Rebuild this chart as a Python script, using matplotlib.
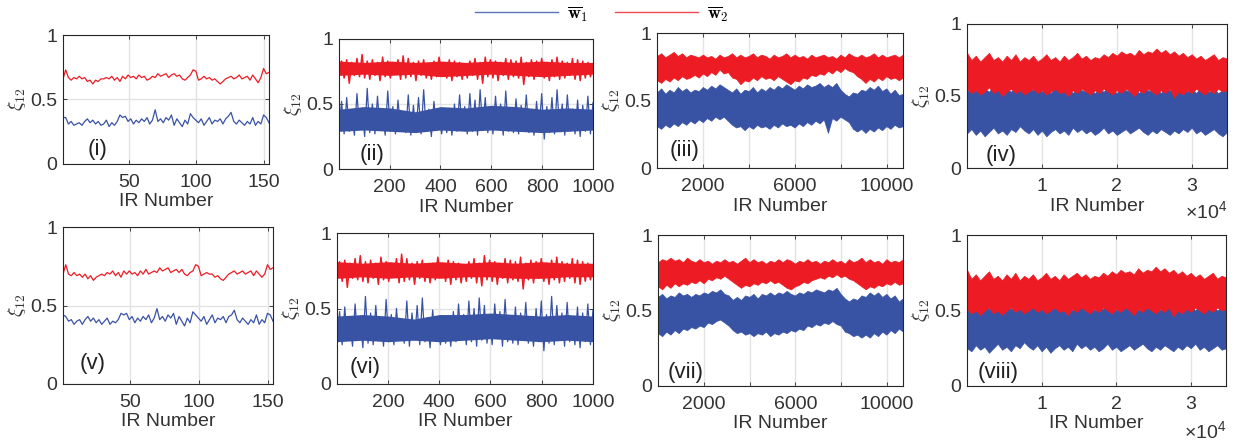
import numpy as np
import matplotlib
matplotlib.use("Agg")
import matplotlib.pyplot as plt

plt.rcParams['font.family'] = ['Liberation Sans', 'DejaVu Sans']
plt.rcParams['mathtext.fontset'] = 'cm'

BLUE = '#3953a4'
RED = '#ed1c24'
TXT = '#333333'

# ---- panels (i) and (v): 154 IRs ----
red_i = [0.66,0.73,0.67,0.65,0.67,0.66,0.68,0.66,0.67,0.64,0.65,0.62,0.65,0.64,0.66,0.66,0.67,0.66,0.68,0.65,
         0.67,0.64,0.68,0.66,0.69,0.67,0.68,0.66,0.69,0.67,0.68,0.65,0.66,0.68,0.67,0.70,0.68,0.69,0.70,0.67,
         0.69,0.70,0.68,0.69,0.66,0.65,0.67,0.69,0.73,0.72,0.65,0.66,0.68,0.66,0.67,0.65,0.66,0.64,0.62,0.64,
         0.66,0.67,0.68,0.66,0.67,0.69,0.66,0.67,0.68,0.65,0.69,0.66,0.63,0.67,0.74,0.70,0.71]
blue_i = [0.36,0.36,0.31,0.33,0.30,0.31,0.32,0.30,0.33,0.35,0.32,0.34,0.31,0.33,0.30,0.31,0.34,0.29,0.32,0.30,
          0.33,0.38,0.36,0.37,0.33,0.35,0.31,0.34,0.32,0.35,0.33,0.36,0.31,0.34,0.42,0.33,0.35,0.32,0.36,0.34,
          0.38,0.30,0.35,0.32,0.29,0.34,0.31,0.39,0.36,0.34,0.32,0.35,0.30,0.33,0.36,0.31,0.34,0.33,0.35,0.31,
          0.35,0.37,0.40,0.33,0.31,0.34,0.32,0.30,0.33,0.31,0.36,0.30,0.33,0.31,0.38,0.36,0.32]
red_v = [0.70,0.76,0.70,0.69,0.71,0.69,0.70,0.68,0.70,0.67,0.69,0.66,0.68,0.69,0.70,0.69,0.71,0.70,0.72,0.69,
         0.71,0.68,0.72,0.70,0.72,0.70,0.71,0.69,0.72,0.70,0.73,0.70,0.71,0.72,0.71,0.74,0.72,0.73,0.74,0.71,
         0.72,0.73,0.71,0.73,0.70,0.69,0.71,0.72,0.76,0.75,0.69,0.70,0.71,0.70,0.70,0.68,0.69,0.67,0.66,0.68,
         0.70,0.71,0.72,0.70,0.71,0.72,0.70,0.71,0.72,0.69,0.72,0.70,0.68,0.70,0.76,0.73,0.74]
blue_v = [0.44,0.43,0.40,0.41,0.38,0.40,0.41,0.38,0.41,0.43,0.40,0.42,0.39,0.41,0.38,0.40,0.42,0.38,0.40,0.39,
          0.41,0.45,0.44,0.45,0.41,0.43,0.39,0.42,0.40,0.43,0.41,0.44,0.39,0.42,0.48,0.41,0.43,0.40,0.44,0.42,
          0.45,0.38,0.43,0.40,0.37,0.42,0.39,0.46,0.44,0.42,0.40,0.43,0.38,0.41,0.44,0.39,0.42,0.41,0.43,0.39,
          0.43,0.44,0.47,0.41,0.39,0.42,0.40,0.38,0.41,0.39,0.44,0.38,0.41,0.39,0.45,0.44,0.40]

# ---- panels (ii) and (vi): 1000 IRs (spikes + dense core) ----
blue_ii = [0.30,0.52,0.27,0.55,0.29,0.44,0.26,0.58,0.31,0.47,0.25,0.62,0.28,0.50,0.27,0.56,0.30,0.45,0.26,0.60,
           0.29,0.48,0.27,0.53,0.31,0.43,0.28,0.57,0.26,0.49,0.30,0.55,0.27,0.61,0.29,0.46,0.25,0.52,0.30,0.42,
           0.27,0.40,0.28,0.45,0.26,0.50,0.29,0.57,0.30,0.48,0.27,0.58,0.29,0.53,0.26,0.61,0.30,0.55,0.28,0.47,
           0.27,0.56,0.31,0.50,0.26,0.60,0.29,0.45,0.28,0.54,0.27,0.49,0.30,0.57,0.28,0.44,0.26,0.52,0.29,0.58,
           0.23,0.48,0.28,0.55,0.27,0.61,0.30,0.50,0.26,0.57,0.29,0.46,0.27,0.53,0.25,0.49,0.29,0.56,0.27,0.51]
red_ii = [0.76,0.83,0.70,0.84,0.66,0.82,0.72,0.85,0.71,0.88,0.70,0.83,0.69,0.84,0.72,0.82,0.68,0.86,0.71,0.83,
          0.70,0.82,0.73,0.84,0.69,0.87,0.70,0.85,0.71,0.82,0.68,0.83,0.72,0.84,0.70,0.81,0.69,0.83,0.71,0.86,
          0.73,0.82,0.70,0.84,0.68,0.83,0.71,0.82,0.69,0.80,0.70,0.83,0.72,0.85,0.69,0.82,0.66,0.86,0.71,0.84,
          0.70,0.83,0.68,0.82,0.72,0.85,0.69,0.84,0.71,0.83,0.70,0.86,0.65,0.82,0.71,0.84,0.69,0.83,0.72,0.85,
          0.70,0.82,0.68,0.84,0.71,0.86,0.69,0.83,0.70,0.82,0.72,0.85,0.69,0.84,0.68,0.83,0.70,0.82,0.71,0.80]
blue_vi = [0.28,0.48,0.26,0.51,0.29,0.42,0.25,0.53,0.30,0.45,0.24,0.58,0.27,0.47,0.26,0.52,0.29,0.43,0.25,0.56,
           0.28,0.46,0.26,0.50,0.30,0.41,0.27,0.55,0.25,0.47,0.29,0.52,0.26,0.57,0.28,0.44,0.24,0.49,0.29,0.40,
           0.26,0.39,0.27,0.44,0.25,0.48,0.28,0.53,0.29,0.46,0.26,0.55,0.28,0.50,0.25,0.57,0.29,0.52,0.27,0.45,
           0.26,0.53,0.30,0.48,0.25,0.56,0.28,0.43,0.27,0.51,0.26,0.47,0.29,0.54,0.27,0.42,0.25,0.50,0.28,0.55,
           0.22,0.46,0.27,0.58,0.26,0.52,0.29,0.47,0.25,0.54,0.28,0.44,0.26,0.51,0.24,0.47,0.28,0.53,0.26,0.49]
red_vi = [0.75,0.81,0.68,0.82,0.64,0.80,0.70,0.83,0.69,0.85,0.68,0.81,0.67,0.82,0.70,0.80,0.66,0.84,0.69,0.81,
          0.68,0.80,0.71,0.83,0.67,0.86,0.68,0.83,0.69,0.80,0.66,0.81,0.70,0.82,0.68,0.79,0.67,0.80,0.69,0.84,
          0.71,0.80,0.68,0.82,0.66,0.81,0.69,0.80,0.67,0.78,0.68,0.81,0.70,0.83,0.67,0.80,0.65,0.85,0.69,0.82,
          0.68,0.81,0.66,0.80,0.70,0.83,0.67,0.82,0.69,0.81,0.68,0.84,0.63,0.80,0.69,0.82,0.67,0.81,0.70,0.83,
          0.68,0.80,0.66,0.82,0.69,0.84,0.67,0.81,0.68,0.80,0.70,0.83,0.67,0.82,0.66,0.81,0.68,0.80,0.69,0.78]
blue_core_ii = ([0.29,0.30,0.29,0.28,0.30,0.29,0.30,0.29,0.28,0.29,0.30],
                [0.46,0.48,0.47,0.44,0.48,0.47,0.49,0.48,0.46,0.47,0.46])
red_core_ii = ([0.72,0.73,0.72,0.73,0.71,0.72,0.73,0.72,0.71,0.72,0.73],
               [0.83,0.82,0.83,0.82,0.83,0.82,0.83,0.82,0.83,0.82,0.82])
blue_core_vi = ([0.28,0.29,0.28,0.29,0.28,0.29,0.30,0.29,0.28,0.29,0.28],
                [0.45,0.46,0.45,0.43,0.46,0.46,0.47,0.46,0.45,0.46,0.45])
red_core_vi = ([0.70,0.71,0.70,0.71,0.70,0.71,0.71,0.70,0.70,0.71,0.71],
               [0.81,0.80,0.81,0.80,0.81,0.80,0.81,0.80,0.81,0.80,0.80])

# ---- dense panels: lower / upper envelope of each band ----
red_hi_iii = [0.83,0.85,0.82,0.84,0.86,0.83,0.85,0.82,0.84,0.83, 0.82,0.84,0.82,0.83,0.81,0.84,0.82,0.83,0.85,0.82,
              0.84,0.82,0.83,0.85,0.82,0.84,0.83,0.81,0.84,0.82, 0.83,0.85,0.82,0.84,0.82,0.83,0.81,0.84,0.82,0.83,
              0.84,0.82,0.83,0.81,0.84,0.82,0.85,0.83,0.82,0.84, 0.82,0.83,0.85,0.82,0.84,0.82,0.83,0.84,0.82,0.84]
red_lo_iii = [0.65,0.63,0.66,0.64,0.67,0.65,0.68,0.66,0.67,0.69, 0.67,0.70,0.68,0.71,0.69,0.73,0.70,0.71,0.67,0.66,
              0.62,0.65,0.64,0.67,0.65,0.68,0.66,0.67,0.65,0.68, 0.66,0.64,0.62,0.65,0.64,0.67,0.66,0.69,0.68,0.70,
              0.69,0.72,0.70,0.73,0.71,0.74,0.72,0.71,0.68,0.66, 0.63,0.66,0.64,0.67,0.65,0.68,0.66,0.67,0.65,0.67]
blue_hi_iii = [0.56,0.59,0.55,0.58,0.56,0.60,0.57,0.59,0.56,0.58, 0.57,0.60,0.58,0.61,0.59,0.62,0.60,0.58,0.56,0.59,
               0.55,0.58,0.57,0.60,0.56,0.59,0.57,0.60,0.58,0.61, 0.59,0.62,0.60,0.58,0.61,0.59,0.62,0.60,0.61,0.63,
               0.60,0.62,0.60,0.63,0.58,0.55,0.53,0.56,0.55,0.58, 0.57,0.60,0.58,0.61,0.57,0.59,0.55,0.58,0.54,0.55]
blue_lo_iii = [0.31,0.29,0.32,0.30,0.33,0.31,0.34,0.32,0.35,0.33, 0.36,0.34,0.37,0.35,0.38,0.36,0.38,0.35,0.32,0.30,
               0.31,0.28,0.31,0.29,0.32,0.30,0.31,0.29,0.32,0.30, 0.33,0.31,0.32,0.30,0.33,0.31,0.34,0.32,0.35,0.33,
               0.36,0.26,0.37,0.35,0.38,0.36,0.34,0.29,0.27,0.29, 0.26,0.29,0.27,0.30,0.28,0.31,0.29,0.32,0.30,0.31]

red_hi_iv = [0.80,0.75,0.78,0.74,0.77,0.80,0.75,0.77,0.74,0.78, 0.75,0.79,0.74,0.77,0.75,0.78,0.74,0.76,0.79,0.75,
             0.77,0.74,0.78,0.75,0.77,0.80,0.76,0.78,0.75,0.77, 0.76,0.79,0.77,0.80,0.78,0.81,0.79,0.80,0.78,0.82,
             0.79,0.81,0.80,0.83,0.80,0.82,0.79,0.81,0.78,0.80, 0.77,0.79,0.76,0.78,0.75,0.77,0.79,0.75,0.77,0.76]
red_lo_iv = [0.55,0.52,0.54,0.51,0.53,0.56,0.52,0.54,0.50,0.53, 0.55,0.52,0.54,0.51,0.53,0.55,0.52,0.54,0.51,0.53,
             0.55,0.52,0.53,0.50,0.54,0.52,0.55,0.53,0.51,0.54, 0.52,0.55,0.53,0.51,0.54,0.52,0.55,0.53,0.50,0.54,
             0.52,0.55,0.53,0.51,0.54,0.52,0.55,0.49,0.53,0.51, 0.54,0.52,0.55,0.53,0.51,0.54,0.52,0.55,0.53,0.54]
blue_hi_iv = [0.53,0.56,0.54,0.52,0.55,0.53,0.57,0.54,0.52,0.55, 0.53,0.56,0.54,0.52,0.55,0.54,0.57,0.53,0.55,0.52,
              0.56,0.54,0.53,0.55,0.52,0.56,0.54,0.53,0.55,0.52, 0.55,0.53,0.56,0.54,0.52,0.57,0.54,0.53,0.55,0.52,
              0.56,0.54,0.53,0.55,0.52,0.56,0.54,0.53,0.55,0.57, 0.53,0.55,0.52,0.56,0.54,0.53,0.55,0.52,0.54,0.55]
blue_lo_iv = [0.24,0.27,0.23,0.26,0.22,0.25,0.28,0.24,0.26,0.23, 0.27,0.25,0.29,0.26,0.24,0.27,0.23,0.26,0.22,0.25,
              0.27,0.24,0.26,0.23,0.28,0.25,0.27,0.24,0.26,0.23, 0.25,0.28,0.24,0.26,0.23,0.25,0.27,0.24,0.26,0.28,
              0.25,0.23,0.26,0.24,0.27,0.25,0.23,0.26,0.24,0.27, 0.25,0.28,0.24,0.26,0.23,0.25,0.27,0.24,0.22,0.25]

red_hi_vii = [0.82,0.84,0.83,0.85,0.83,0.84,0.82,0.85,0.83,0.82, 0.84,0.82,0.83,0.81,0.83,0.82,0.84,0.82,0.83,0.81,
              0.83,0.85,0.82,0.84,0.82,0.83,0.81,0.83,0.82,0.84, 0.82,0.84,0.83,0.81,0.83,0.82,0.84,0.82,0.83,0.81,
              0.83,0.82,0.84,0.82,0.83,0.81,0.84,0.82,0.83,0.85, 0.82,0.84,0.82,0.83,0.81,0.84,0.82,0.83,0.82,0.84]
red_lo_vii = [0.66,0.64,0.67,0.65,0.68,0.66,0.68,0.67,0.69,0.68, 0.70,0.68,0.71,0.70,0.72,0.71,0.73,0.71,0.69,0.67,
              0.65,0.67,0.66,0.68,0.67,0.69,0.68,0.70,0.68,0.69, 0.67,0.65,0.64,0.66,0.67,0.69,0.68,0.70,0.71,0.72,
              0.71,0.73,0.72,0.74,0.72,0.73,0.71,0.70,0.68,0.66, 0.64,0.66,0.65,0.67,0.66,0.68,0.67,0.69,0.67,0.68]
blue_hi_vii = [0.59,0.61,0.58,0.60,0.59,0.62,0.60,0.61,0.59,0.61, 0.60,0.62,0.61,0.63,0.62,0.64,0.61,0.60,0.57,0.59,
               0.57,0.60,0.59,0.61,0.58,0.61,0.60,0.62,0.60,0.62, 0.61,0.63,0.61,0.60,0.62,0.61,0.63,0.62,0.64,0.63,
               0.62,0.64,0.63,0.65,0.61,0.58,0.56,0.58,0.57,0.60, 0.59,0.62,0.60,0.62,0.59,0.61,0.58,0.60,0.56,0.58]
blue_lo_vii = [0.35,0.33,0.36,0.34,0.37,0.35,0.38,0.37,0.39,0.38, 0.40,0.39,0.42,0.41,0.43,0.44,0.42,0.40,0.37,0.35,
               0.36,0.34,0.35,0.33,0.35,0.34,0.36,0.33,0.35,0.34, 0.36,0.35,0.37,0.36,0.38,0.37,0.40,0.39,0.41,0.40,
               0.42,0.41,0.43,0.41,0.40,0.36,0.35,0.33,0.34,0.32, 0.34,0.32,0.35,0.33,0.36,0.34,0.37,0.35,0.38,0.36]

red_hi_viii = [0.77,0.71,0.74,0.70,0.73,0.76,0.71,0.73,0.70,0.74, 0.71,0.75,0.70,0.73,0.71,0.74,0.70,0.72,0.75,0.71,
               0.73,0.70,0.74,0.71,0.73,0.75,0.72,0.74,0.71,0.73, 0.72,0.75,0.73,0.76,0.74,0.77,0.75,0.76,0.74,0.78,
               0.75,0.77,0.76,0.79,0.76,0.78,0.75,0.77,0.74,0.76, 0.73,0.75,0.72,0.74,0.71,0.73,0.75,0.71,0.73,0.72]
red_lo_viii = [0.51,0.48,0.50,0.47,0.50,0.52,0.48,0.50,0.47,0.50, 0.52,0.49,0.51,0.48,0.50,0.52,0.49,0.51,0.48,0.50,
               0.52,0.49,0.50,0.47,0.51,0.49,0.52,0.50,0.48,0.51, 0.49,0.52,0.50,0.48,0.51,0.49,0.52,0.50,0.47,0.51,
               0.49,0.52,0.50,0.48,0.51,0.49,0.52,0.46,0.50,0.48, 0.51,0.49,0.52,0.50,0.48,0.51,0.49,0.52,0.50,0.51]
blue_hi_viii = [0.51,0.54,0.52,0.50,0.53,0.51,0.55,0.52,0.50,0.53, 0.51,0.54,0.52,0.50,0.53,0.52,0.55,0.51,0.53,0.50,
                0.54,0.52,0.51,0.53,0.50,0.54,0.52,0.51,0.53,0.50, 0.53,0.51,0.54,0.52,0.50,0.55,0.52,0.51,0.53,0.50,
                0.54,0.52,0.51,0.53,0.50,0.54,0.52,0.51,0.53,0.55, 0.51,0.53,0.50,0.54,0.52,0.51,0.53,0.50,0.52,0.53]
blue_lo_viii = [0.25,0.23,0.27,0.24,0.26,0.22,0.25,0.28,0.24,0.26, 0.23,0.27,0.25,0.29,0.26,0.24,0.27,0.23,0.26,0.22,
                0.25,0.27,0.24,0.26,0.23,0.28,0.25,0.27,0.24,0.26, 0.23,0.25,0.28,0.24,0.26,0.23,0.25,0.27,0.24,0.26,
                0.28,0.25,0.23,0.26,0.24,0.27,0.25,0.23,0.26,0.24, 0.27,0.25,0.28,0.24,0.26,0.23,0.25,0.27,0.24,0.25]

n_irs = [154, 1000, 10700, 34700]
xticks = [[50, 100, 150], [200, 400, 600, 800, 1000],
          [2000, 4000, 6000, 8000, 10000], [10000, 20000, 30000]]
xticklabels = [['50', '100', '150'], ['200', '400', '600', '800', '1000'],
               ['2000', '', '6000', '', '10000'], ['1', '2', '3']]
panel_names = ['(i)', '(ii)', '(iii)', '(iv)', '(v)', '(vi)', '(vii)', '(viii)']

W, H = 1236, 445
# axes boxes in pixels: left, top, right, bottom
boxes = [(63, 35, 269, 164), (339, 39, 593, 169), (657, 33, 903, 168), (967, 24, 1227, 168),
         (63, 227, 273, 384), (337, 233, 593, 384), (658, 235, 903, 386), (967, 235, 1226, 386)]
label_pos = [(0.12, 0.11), (0.08, 0.11), (0.05, 0.13), (0.07, 0.09),
             (0.08, 0.13), (0.05, 0.11), (0.04, 0.09), (0.04, 0.09)]

fig = plt.figure(figsize=(W / 100, H / 100), dpi=100)


def style(ax, k):
    col = k % 4
    ax.set_xlim(1, n_irs[col])
    ax.set_ylim(0, 1)
    ax.set_yticks([0, 0.5, 1])
    ax.set_yticklabels(['0', '0.5', '1'])
    ax.set_xticks(xticks[col])
    ax.set_xticklabels(xticklabels[col])
    ax.grid(True, color='#e3e3e3', lw=1.0)
    ax.set_axisbelow(True)
    ax.tick_params(direction='in', length=3, width=0.6, top=True, right=True,
                   labelsize=14, colors='#262626', labelcolor=TXT)
    ax.tick_params(axis='x', pad=7)
    ax.tick_params(axis='y', pad=4)
    for s in ax.spines.values():
        s.set_color('#262626')
        s.set_linewidth(0.8)
    ax.set_xlabel('IR Number', fontsize=14, color=TXT, labelpad=2)
    ax.set_ylabel(r'$\xi_{12}$', fontsize=14, color=TXT, labelpad=2)
    lx, ly = label_pos[k]
    ax.text(lx, ly, panel_names[k], transform=ax.transAxes, fontsize=16,
            color='#222222', ha='left', va='center')
    if col == 3:
        ax.text(1.0, -0.30, r'$\mathregular{\times 10^{4}}$', transform=ax.transAxes,
                fontsize=14, color=TXT, ha='right', va='center')


axes = []
for (l, t, r, b) in boxes:
    axes.append(fig.add_axes([l / W, 1 - b / H, (r - l) / W, (b - t) / H]))

# line panels
for ax, blue, red in [(axes[0], blue_i, red_i), (axes[4], blue_v, red_v)]:
    ax.plot(np.linspace(1, 154, len(blue)), blue, color=BLUE, lw=0.9)
    ax.plot(np.linspace(1, 154, len(red)), red, color=RED, lw=0.9)

for ax, blue, red, bcore, rcore in [(axes[1], blue_ii, red_ii, blue_core_ii, red_core_ii),
                                    (axes[5], blue_vi, red_vi, blue_core_vi, red_core_vi)]:
    xc = np.linspace(1, 1000, len(bcore[0]))
    ax.fill_between(xc, bcore[0], bcore[1], color=BLUE, lw=0)
    ax.plot(np.linspace(1, 1000, len(blue)), blue, color=BLUE, lw=0.9)
    ax.fill_between(xc, rcore[0], rcore[1], color=RED, lw=0)
    ax.plot(np.linspace(1, 1000, len(red)), red, color=RED, lw=1.1)

# dense band panels
dense = [(axes[2], 10700, blue_lo_iii, blue_hi_iii, red_lo_iii, red_hi_iii),
         (axes[3], 34700, blue_lo_iv, blue_hi_iv, red_lo_iv, red_hi_iv),
         (axes[6], 10700, blue_lo_vii, blue_hi_vii, red_lo_vii, red_hi_vii),
         (axes[7], 34700, blue_lo_viii, blue_hi_viii, red_lo_viii, red_hi_viii)]
for ax, n, blo, bhi, rlo, rhi in dense:
    ax.fill_between(np.linspace(1, n, len(blo)), blo, bhi, color=BLUE, lw=0.5, edgecolor=BLUE)
    ax.fill_between(np.linspace(1, n, len(rlo)), rlo, rhi, color=RED, lw=0.5, edgecolor=RED)

for k, ax in enumerate(axes):
    style(ax, k)

# shared legend on top
h1, = axes[0].plot([], [], color='#5b74bb', lw=1.0)
h2, = axes[0].plot([], [], color='#f04a50', lw=1.0)
fig.legend([h1, h2], [r'$\overline{\mathbf{w}}_1$', r'$\overline{\mathbf{w}}_2$'],
           loc='center', bbox_to_anchor=(602 / W, 1 - 14 / H), ncol=2, frameon=False,
           fontsize=13, handlelength=4.6, columnspacing=1.5, handletextpad=0.5)

fig.savefig('out.png', dpi=100)
